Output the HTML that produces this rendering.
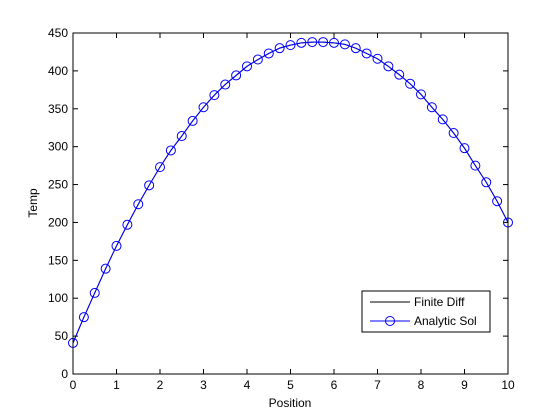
<!DOCTYPE html>
<html><head><meta charset="utf-8"><style>
html,body{margin:0;padding:0;background:#fff;}
svg{display:block;font-family:"Liberation Sans",Arial,sans-serif;}
</style></head><body>
<svg id="chart" width="560" height="420">
<rect x="0" y="0" width="560" height="420" fill="#fff"/>
<rect x="73" y="33" width="435" height="341" fill="#fff"/>
<g id="grid"></g>
<g id="series"></g>
<rect x="73" y="33" width="435" height="341" fill="none" stroke="#000" stroke-width="1"/>
<text x="290" y="407" font-size="12" text-anchor="middle">Position</text>
<text x="37" y="203" font-size="12" text-anchor="middle" transform="rotate(-90 37 203)">Temp</text>
<g>
<rect x="362" y="291" width="128" height="41" fill="#fff" stroke="#000"/>
<line x1="370" y1="302" x2="410" y2="302" stroke="#000"/>
<text x="414" y="306" font-size="12">Finite Diff</text>
<line x1="370" y1="321" x2="410" y2="321" stroke="#00f"/>
<circle cx="390" cy="321" r="4.5" fill="none" stroke="#00f"/>
<text x="414" y="325" font-size="12">Analytic Sol</text>
</g>
</svg>
<script>
const positions = [0,0.25,0.5,0.75,1,1.25,1.5,1.75,2,2.25,2.5,2.75,3,3.25,3.5,3.75,4,4.25,4.5,4.75,5,5.25,5.5,5.75,6,6.25,6.5,6.75,7,7.25,7.5,7.75,8,8.25,8.5,8.75,9,9.25,9.5,9.75,10];
const finiteDiff = [41,75,107,139,169,197,224,249,273,295,314,334,352,368,382,394,406,415,423,430,434,437,438,438,437,435,430,423,416,406,395,383,369,352,336,318,298,275,253,228,200];
const analyticSol = [41,75,107,139,169,197,224,249,273,295,314,334,352,368,382,394,406,415,423,430,434,437,438,438,437,435,430,423,416,406,395,383,369,352,336,318,298,275,253,228,200];
const xTicks = [0,1,2,3,4,5,6,7,8,9,10];
const yTicks = [0,50,100,150,200,250,300,350,400,450];

const NS = "http://www.w3.org/2000/svg";
const X0=73, X1=508, Y0=374, Y1=33;
function sx(v){return X0+(v-0)/(10-0)*(X1-X0);}
function sy(v){return Y0-(v-0)/(450-0)*(Y0-Y1);}
const grid=document.getElementById('grid');
const ser=document.getElementById('series');
function mk(tag,attrs,parent){const e=document.createElementNS(NS,tag);for(const k in attrs)e.setAttribute(k,attrs[k]);parent.appendChild(e);return e;}

xTicks.forEach(t=>{
  const x=sx(t);
  const a=mk('line',{x1:x,y1:Y0,x2:x,y2:Y0-5,stroke:'#000'},grid);
  
  
  const b=mk('line',{x1:x,y1:Y1,x2:x,y2:Y1+5,stroke:'#000'},grid);
  
  
  const l=mk('text',{x:x,y:389,'font-size':12,'text-anchor':'middle'},grid);
  l.textContent=t;
  
  
});
yTicks.forEach(t=>{
  const y=sy(t);
  const a=mk('line',{x1:X0,y1:y,x2:X0+5,y2:y,stroke:'#000'},grid);
  
  
  const b=mk('line',{x1:X1,y1:y,x2:X1-5,y2:y,stroke:'#000'},grid);
  
  
  const l=mk('text',{x:68,y:y+4,'font-size':12,'text-anchor':'end'},grid);
  l.textContent=t;
  
  
});

const fd=mk('polyline',{points:positions.map((p,i)=>sx(p)+','+sy(finiteDiff[i])).join(' '),fill:'none',stroke:'#000','stroke-width':1},ser);


const an=mk('polyline',{points:positions.map((p,i)=>sx(p)+','+sy(analyticSol[i])).join(' '),fill:'none',stroke:'#00f','stroke-width':1},ser);


positions.forEach((p,i)=>{
  const c=mk('circle',{cx:sx(p),cy:sy(analyticSol[i]),r:4.5,fill:'none',stroke:'#00f'},ser);
  
  
});
</script>
</body></html>
